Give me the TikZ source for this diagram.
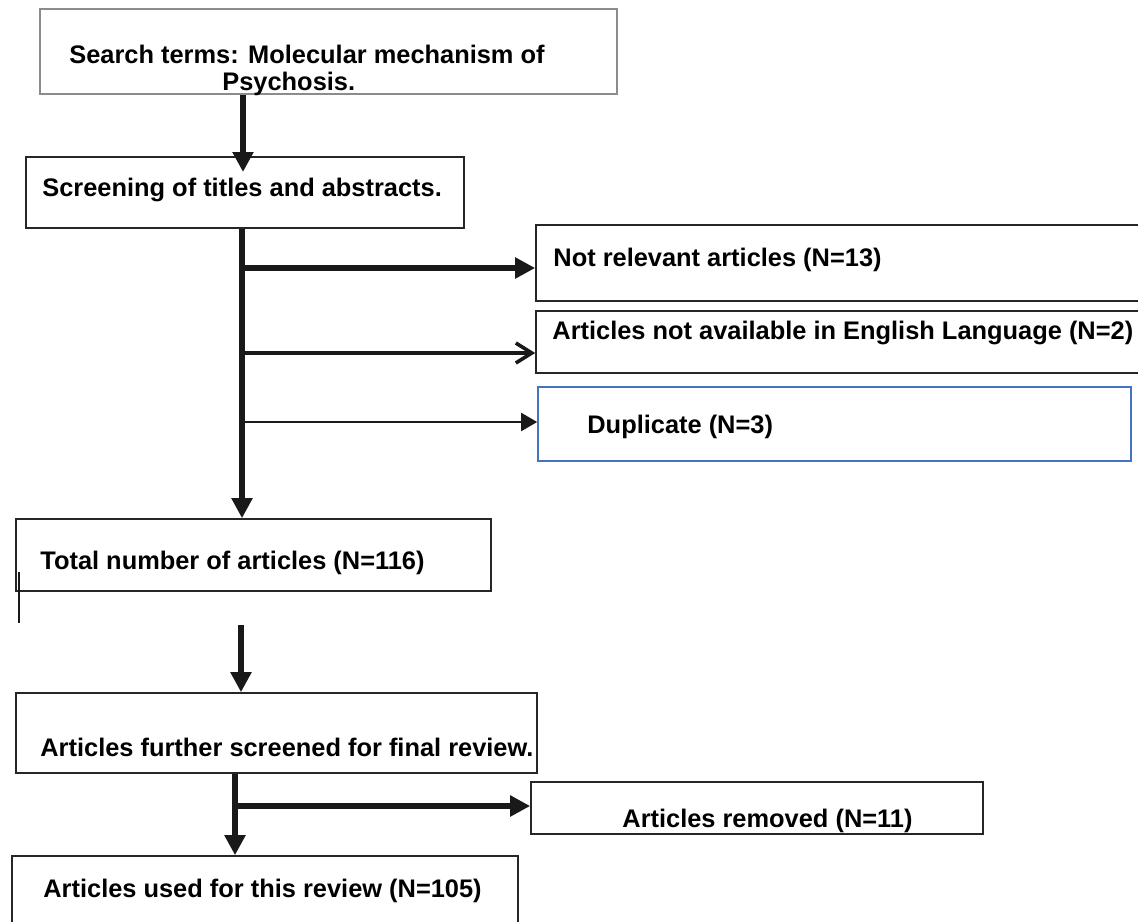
\documentclass[tikz,border=0pt]{standalone}
\usepackage{fontspec}
\setmainfont{Liberation Sans}
\usetikzlibrary{arrows.meta}
\tikzset{>={Triangle[length=10pt,width=10pt]}}
\definecolor{dupblue}{RGB}{68,114,196}

\begin{document}
\begin{tikzpicture}[x=0.5pt,y=-0.5pt]
\clip (0,0) rectangle (1138,921);
% boxes
\begin{scope}[every node/.style={draw=black!85,line width=0.8pt,inner sep=0pt}]
\node[draw=black!45,minimum width=288.5pt,minimum height=42.5pt] (search) at (328.5,51.5) {};
\node[minimum width=219pt,minimum height=35.5pt] (screen) at (245,192.5) {};
\node[minimum width=307pt,minimum height=38pt] (notrel) at (843,263) {};
\node[minimum width=307pt,minimum height=31pt] (notavail) at (843,342) {};
\node[draw=dupblue,minimum width=296.5pt,minimum height=37pt] (dup) at (834.5,424) {};
\node[minimum width=237.5pt,minimum height=36pt] (total) at (253.5,555) {};
\node[minimum width=260.5pt,minimum height=40pt] (further) at (276.5,733) {};
\node[minimum width=226pt,minimum height=26pt] (removed) at (757,808) {};
\node[minimum width=253pt,minimum height=42pt] (used) at (265,898) {};
\end{scope}
% texts
\begin{scope}[every node/.style={anchor=base west,inner sep=0pt,font=\bfseries\fontsize{12.7}{15}\selectfont}]
\node (searchtxt) at (69,63) {Search terms: Molecular mechanism of};
\node (searchtxtb) at (222,90) {Psychosis.};
\node (screentxt) at (42,196) {Screening of titles and abstracts.};
\node (notreltxt) at (553,266) {Not relevant articles (N=13)};
\node (notavailtxt) at (552,339) {Articles not available in English Language (N=2)};
\node (duptxt) at (587,433) {Duplicate (N=3)};
\node (totaltxt) at (40,569) {Total number of articles (N=116)};
\node (furthertxt) at (40,756) {Articles further screened for final review.};
\node (removedtxt) at (622,827) {Articles removed (N=11)};
\node (usedtxt) at (43,897) {Articles used for this review (N=105)};
\end{scope}
% connectors
\coordinate (t1) at (243,172);
\coordinate (t2) at (242,516);
\coordinate (b1) at (242,268);
\coordinate (b2) at (242,353);
\coordinate (b3) at (242,422);
\coordinate (c1) at (241,625);
\coordinate (c2) at (235,806);
\coordinate (s1) at (19,572);
\coordinate (s2) at (19,623);
\begin{scope}[draw=black!90]
\draw[line width=3pt,->] (search.south -| t1) -- (t1);
\draw[line width=3.3pt,->] (screen.south -| t2) -- (total.north -| t2);
\draw[line width=3.3pt,->] (b1) -- (notrel.west |- b1);
\draw[line width=2.4pt,-{Straight Barb[length=8pt,width=10pt,line width=1.8pt]}] (b2) -- (notavail.west |- b2);
\draw[line width=1pt,-{Triangle[length=8pt,width=9pt]}] (b3) -- (dup.west |- b3);
\draw[line width=3.2pt,->] (c1) -- (further.north -| c1);
\draw[line width=2.6pt,->] (further.south -| c2) -- (used.north -| c2);
\draw[line width=3.3pt,->] (c2) -- (removed.west |- c2);
\draw[line width=0.7pt] (s1) -- (s2);
\end{scope}
\end{tikzpicture}
\end{document}
